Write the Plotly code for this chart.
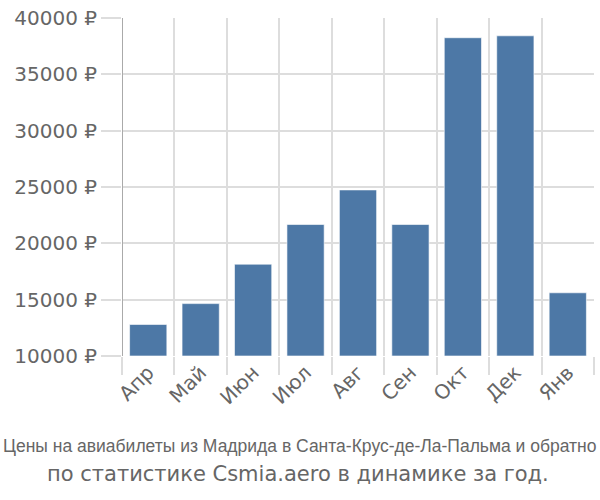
import plotly.graph_objects as go

months = ["Апр", "Май", "Июн", "Июл", "Авг", "Сен", "Окт", "Дек", "Янв"]
prices = [12800, 14650, 18150, 21670, 24740, 21670, 38250, 38420, 15610]
y_ticks = [10000, 15000, 20000, 25000, 30000, 35000, 40000]
y_labels = [f"{v} ₽" for v in y_ticks]
title_line1 = "Цены на авиабилеты из Мадрида в Санта-Крус-де-Ла-Пальма и обратно"
title_line2 = "по статистике Csmia.aero в динамике за год."

xs = list(range(len(months)))
bounds = [i - 0.5 for i in range(len(months) + 1)]

L, R, T, B = 122, 6, 14, 144
W, H = 600, 500
plot_w = W - L - R
plot_h = H - T - B

fig = go.Figure()
fig.add_trace(go.Bar(
    x=xs, y=[p - 10000 for p in prices], base=10000,
    width=0.71,
    marker=dict(color="#4d78a6", line=dict(color="rgba(255,255,255,0.6)", width=1)),
    hoverinfo="skip",
))

grid = "#dddddd"
fig.update_layout(
    width=W, height=H,
    margin=dict(l=L, r=R, t=T, b=B),
    plot_bgcolor="white", paper_bgcolor="white",
    showlegend=False,
    font=dict(family="DejaVu Sans, sans-serif", size=20, color="#666666"),
    xaxis=dict(
        range=[-0.5, len(months) - 0.5],
        tickvals=xs, ticktext=months, tickangle=-45,
        showgrid=False, ticks="", zeroline=False,
        showline=False,
        minor=dict(tickvals=bounds, showgrid=True, gridcolor=grid, gridwidth=2,
                   ticks="outside", ticklen=18, tickcolor=grid, tickwidth=2),
    ),
    yaxis=dict(
        range=[10000, 40000],
        tickvals=y_ticks, ticktext=y_labels,
        showgrid=True, gridcolor=grid, gridwidth=2,
        ticks="outside", ticklen=20, tickcolor=grid, tickwidth=2,
        zeroline=False, showline=False,
    ),
    shapes=[dict(type="line", xref="x", yref="paper", x0=-0.5, x1=-0.5, y0=0, y1=1,
                 line=dict(color="#aaaaaa", width=2)),
            dict(type="line", xref="x", yref="y", x0=-0.5, x1=-0.5, y0=10000, y1=8400,
                 line=dict(color="#aaaaaa", width=2))],
)

def px_x(x):
    return (x - L) / plot_w

def px_y(y):
    return (H - B - y) / plot_h

fig.add_annotation(text=title_line1, x=px_x(300), y=px_y(447), xref="paper", yref="paper",
                   showarrow=False, yanchor="middle", xanchor="center",
                   font=dict(size=17.5, family="Liberation Sans, Arial", color="#666666"))
fig.add_annotation(text=title_line2, x=px_x(298), y=px_y(475), xref="paper", yref="paper",
                   showarrow=False, yanchor="middle", xanchor="center",
                   font=dict(size=21, family="DejaVu Sans", color="#666666"))
fig.write_html("out.html")
